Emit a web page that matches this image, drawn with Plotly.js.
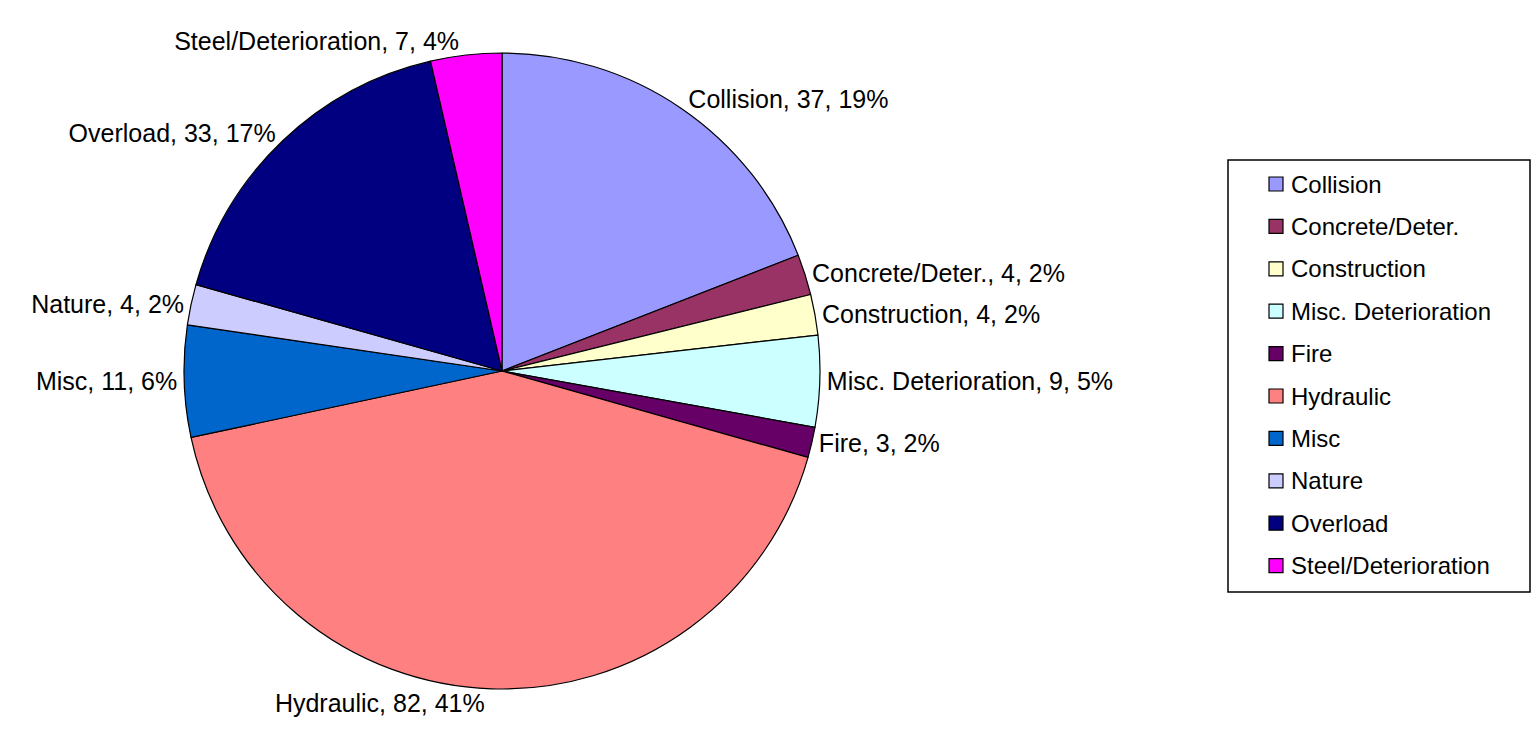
<!DOCTYPE html>
<html>
<head>
<meta charset="utf-8">
<script src="https://cdn.plot.ly/plotly-3.0.1.min.js"></script>
<style>html,body{margin:0;padding:0;background:#fff;}#chart{width:1537px;height:739px;}</style>
</head>
<body>
<div id="chart"></div>
<script>
// Data
const categories = ["Collision", "Concrete/Deter.", "Construction", "Misc. Deterioration", "Fire", "Hydraulic", "Misc", "Nature", "Overload", "Steel/Deterioration"];
const counts = [37, 4, 4, 9, 3, 82, 11, 4, 33, 7];
const pctLabels = ["19%", "2%", "2%", "5%", "2%", "41%", "6%", "2%", "17%", "4%"];
const colors = ["#9999FF", "#993366", "#FFFFCC", "#CCFFFF", "#660066", "#FF8080", "#0066CC", "#CCCCFF", "#000080", "#FF00FF"];

const W = 1537, H = 739;
const FONT = "Liberation Sans, Arial, sans-serif";
const px = x => x / W;
const py = y => 1 - y / H;

const trace = {
  type: "pie",
  labels: categories,
  values: counts,
  customdata: pctLabels,
  sort: false,
  direction: "clockwise",
  rotation: 0,
  marker: {colors: colors, line: {color: "#000000", width: 1.2}},
  textposition: "outside",
  texttemplate: "%{label}, %{value}, %{customdata}",
  textfont: {family: FONT, size: 25, color: "#000000"},
  outsidetextfont: {family: FONT, size: 25, color: "#000000"},
  domain: {x: [px(502 - 318), px(502 + 318)], y: [py(689), py(53)]},
  showlegend: false,
  hoverinfo: "label+value"
};

// Custom legend built from the data arrays
const shapes = [{
  type: "rect", xref: "paper", yref: "paper",
  x0: px(1228), x1: px(1530), y0: py(592), y1: py(160),
  line: {color: "#000000", width: 1.5}, fillcolor: "rgba(0,0,0,0)"
}];
const annotations = [];
const legTop = 184, legStep = 42.4;
categories.forEach((c, i) => {
  const yc = legTop + i * legStep;
  shapes.push({
    type: "rect", xref: "paper", yref: "paper",
    x0: px(1269), x1: px(1283), y0: py(yc + 7), y1: py(yc - 7),
    line: {color: "#000000", width: 1.2}, fillcolor: colors[i]
  });
  annotations.push({
    xref: "paper", yref: "paper", x: px(1289), y: py(yc),
    xanchor: "left", yanchor: "middle", showarrow: false,
    text: c, font: {family: FONT, size: 24, color: "#000000"}
  });
});

const layout = {
  width: W, height: H,
  margin: {l: 0, r: 0, t: 0, b: 0},
  paper_bgcolor: "#ffffff",
  plot_bgcolor: "#ffffff",
  showlegend: false,
  shapes: shapes,
  annotations: annotations,
  font: {family: FONT}
};

Plotly.newPlot("chart", [trace], layout, {displayModeBar: false, staticPlot: true});
</script>
</body>
</html>
